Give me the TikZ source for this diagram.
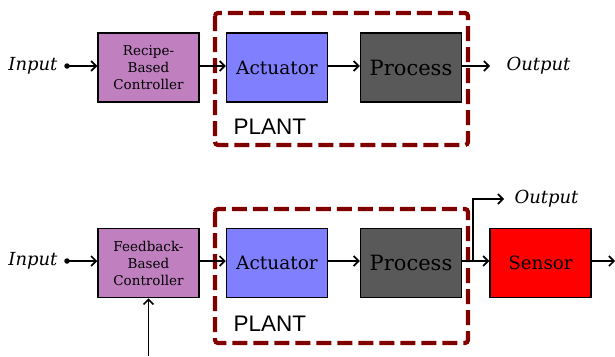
\documentclass[tikz,border=0pt]{standalone}
\usepackage{fontspec}
\setmainfont{DejaVu Serif}
\newfontfamily\plantfont{Liberation Sans}
\usetikzlibrary{arrows.meta,calc}
\definecolor{ctrlfill}{HTML}{C080C0}
\definecolor{actfill}{HTML}{8080FF}
\definecolor{procfill}{HTML}{595959}
\definecolor{plantred}{HTML}{800000}
\tikzset{
  blockbox/.style={draw=black, line width=1.5pt, minimum width=101pt, minimum height=69pt, inner sep=0pt, align=center},
  ctrlbox/.style={blockbox, fill=ctrlfill, font=\fontsize{13.5}{17}\selectfont},
  actbox/.style={blockbox, fill=actfill, font=\fontsize{18.5}{20}\selectfont},
  procbox/.style={blockbox, fill=procfill, font=\fontsize{21}{24}\selectfont},
  sensbox/.style={blockbox, fill=red, font=\fontsize{18.3}{20}\selectfont},
  plantbox/.style={draw=plantred, line width=4.2pt, dash pattern=on 15pt off 6pt, rounded corners=3pt},
  planttext/.style={font=\plantfont\fontsize{22.5}{24}\selectfont},
  sigtext/.style={font=\itshape\fontsize{18}{20}\selectfont},
  flow/.style={line width=1.6pt, -{Straight Barb[length=5pt,width=10pt,line width=1.6pt]}},
  dot/.style={circle, fill=black, inner sep=0pt, minimum size=5.5pt}
}
\begin{document}
\begin{tikzpicture}[x=1pt,y=-1pt]
\useasboundingbox (0,0) rectangle (615,356);

% ---- open-loop (recipe-based) system ----
\draw[plantbox] (215,13) rectangle (468,145);
\node[planttext, anchor=west] (plantA) at (230,127) {PLANT};
\node[ctrlbox] (ctrlA) at (148.5,67.5) {Recipe-\\Based\\Controller};
\node[actbox] (actA) at (277,67.5) {Actuator};
\node[procbox] (procA) at (411,67.5) {Process};
\node[dot] (inA) at (67,66) {};
\node[sigtext, anchor=east] (inAtxt) at (61,66) {Input};
\coordinate (outA) at (490,66);
\node[sigtext, anchor=west] (outAtxt) at (503,66) {Output};
\draw[flow] (inA.center) -- (ctrlA.west |- inA);
\draw[flow] (ctrlA.east |- inA) -- (actA.west |- inA);
\draw[flow] (actA.east |- inA) -- (procA.west |- inA);
\draw[flow] (procA.east |- inA) -- (outA);

% ---- closed-loop (feedback-based) system ----
\draw[plantbox] (215,209) rectangle (468,343);
\node[planttext, anchor=west] (plantB) at (230,324) {PLANT};
\node[ctrlbox] (ctrlB) at (148.5,263) {Feedback-\\Based\\Controller};
\node[actbox] (actB) at (277,263) {Actuator};
\node[procbox] (procB) at (411,263) {Process};
\node[sensbox] (sens) at (540.5,263) {Sensor};
\node[dot] (inB) at (67,261) {};
\node[sigtext, anchor=east] (inBtxt) at (61,261) {Input};
\coordinate (tap) at (473,261);
\coordinate (outB) at (504,199);
\node[sigtext, anchor=west] (outBtxt) at (511,199) {Output};
\coordinate (sensOut) at (615,261);
\coordinate (fbIn) at (148.5,356);
\draw[flow] (inB.center) -- (ctrlB.west |- inB);
\draw[flow] (ctrlB.east |- inB) -- (actB.west |- inB);
\draw[flow] (actB.east |- inB) -- (procB.west |- inB);
\draw[flow] (procB.east |- inB) -- (sens.west |- inB);
\draw[flow] (tap) |- (outB);
\draw[flow] (sens.east |- inB) -- (sensOut);
\draw[flow] (fbIn) -- (ctrlB.south);
\end{tikzpicture}
\end{document}
